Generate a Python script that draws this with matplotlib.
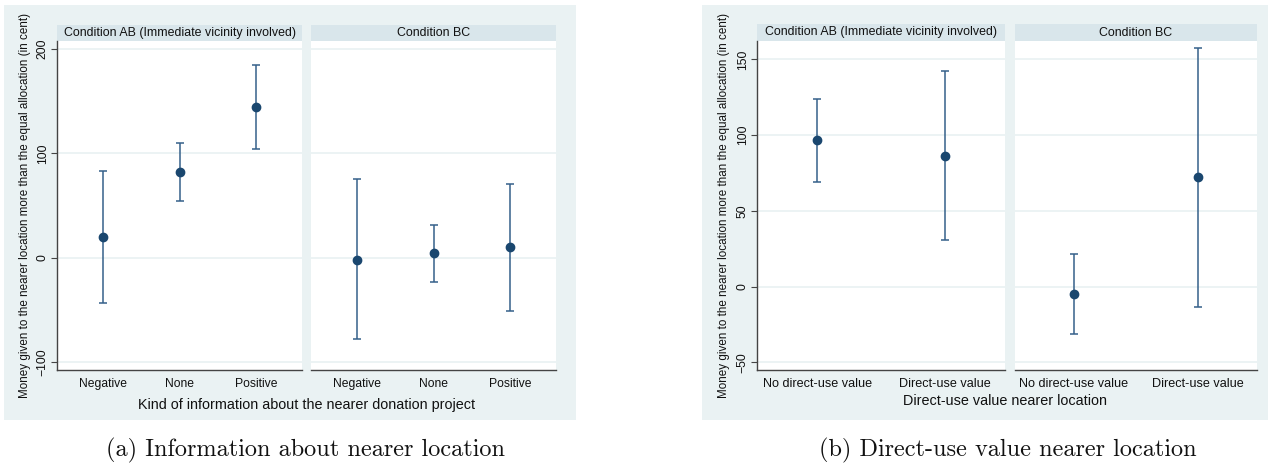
import matplotlib
matplotlib.use("Agg")
import matplotlib.pyplot as plt
from matplotlib.patches import Rectangle

# ---------------- data ----------------
info_categories = ["Negative", "None", "Positive"]
ab_info_mean = [20, 82, 144]
ab_info_lo = [-43, 54, 104]
ab_info_hi = [83, 110, 185]
bc_info_mean = [-2, 4, 10]
bc_info_lo = [-78, -23, -51]
bc_info_hi = [75, 31, 71]

use_categories = ["No direct-use value", "Direct-use value"]
ab_use_mean = [96.5, 86.5]
ab_use_lo = [69, 31]
ab_use_hi = [124, 142]
bc_use_mean = [-5, 72]
bc_use_lo = [-31.5, -13.5]
bc_use_hi = [21.5, 157.5]

panel_titles = ["Condition AB (Immediate vicinity involved)", "Condition BC"]
info_yticks = [-100, 0, 100, 200]
use_yticks = [-50, 0, 50, 100, 150]
ylabel = "Money given to the nearer location more than the equal allocation (in cent)"
xlabel_a = "Kind of information about the nearer donation project"
xlabel_b = "Direct-use value nearer location"
caption_a = "(a) Information about nearer location"
caption_b = "(b) Direct-use value nearer location"

# ---------------- style ----------------
W, H = 1271, 468
BG = "#EAF2F3"
STRIP = "#D9E6EB"
MARK = "#1A476F"
BAR = "#35608A"
SANS = ["Liberation Sans", "DejaVu Sans"]
plt.rcParams["font.family"] = SANS

fig = plt.figure(figsize=(W / 100, H / 100), dpi=100)
fig.patch.set_facecolor("white")


def rect(x0, y0, x1, y1, color):
    fig.add_artist(Rectangle((x0 / W, 1 - y1 / H), (x1 - x0) / W, (y1 - y0) / H,
                             transform=fig.transFigure, facecolor=color,
                             edgecolor="none", zorder=0))


def add_sub(x0, x1, y_top, y_bot, strip_top, title, cats, mean, lo, hi,
            xlim, ylim, yticks, show_y, tick_fs):
    # header strip
    rect(x0, strip_top, x1, y_top, STRIP)
    fig.text((x0 + x1) / 2 / W, 1 - (strip_top + y_top) / 2 / H, title,
             ha="center", va="center", fontsize=8.9, color="#111111")
    ax = fig.add_axes([x0 / W, 1 - y_bot / H, (x1 - x0) / W, (y_bot - y_top) / H])
    ax.set_facecolor("white")
    xs = list(range(1, len(cats) + 1))
    yerr = [[m - l for m, l in zip(mean, lo)], [h - m for m, h in zip(mean, hi)]]
    ax.errorbar(xs, mean, yerr=yerr, fmt="none", ecolor=BAR, elinewidth=1.1,
                capsize=3, capthick=1.1, zorder=3)
    ax.plot(xs, mean, "o", color=MARK, markersize=6, zorder=4)
    ax.set_xlim(*xlim)
    ax.set_ylim(*ylim)
    ax.set_yticks(yticks)
    for t in yticks:
        ax.axhline(t, color=BG, lw=1.3, zorder=1)
    ax.set_xticks(xs)
    ax.set_xticklabels(cats, fontsize=tick_fs, color="#111111")
    ax.tick_params(axis="x", length=0, pad=6)
    for s in ["top", "right"]:
        ax.spines[s].set_visible(False)
    ax.spines["bottom"].set_color("#444444")
    ax.spines["bottom"].set_linewidth(1.0)
    if show_y:
        ax.spines["left"].set_color("#444444")
        ax.spines["left"].set_linewidth(1.0)
        ax.tick_params(axis="y", length=4, width=0.8, color="#444444",
                       labelsize=8.8, labelcolor="#111111", pad=2)
        for lab in ax.get_yticklabels():
            lab.set_rotation(90)
            lab.set_va("center")
    else:
        ax.spines["left"].set_visible(False)
        ax.tick_params(axis="y", length=0, labelleft=False)
    return ax


# ---------------- panel (a) ----------------
rect(4, 5, 576, 420, BG)
add_sub(57, 302, 41, 370, 25, panel_titles[0], info_categories,
        ab_info_mean, ab_info_lo, ab_info_hi, (0.4, 3.6), (-107.7, 207.7),
        info_yticks, True, 8.7)
add_sub(311, 556, 41, 370, 25, panel_titles[1], info_categories,
        bc_info_mean, bc_info_lo, bc_info_hi, (0.4, 3.6), (-107.7, 207.7),
        info_yticks, False, 8.7)
fig.text(25 / W, 1 - 205 / H, ylabel, rotation=90, ha="center", va="center",
         fontsize=8.4, color="#111111")
fig.text(307 / W, 1 - 405 / H, xlabel_a, ha="center", va="center",
         fontsize=10.4, color="#111111")

# ---------------- panel (b) ----------------
rect(702, 5, 1268, 420, BG)
add_sub(757, 1005, 41, 370, 24, panel_titles[0], use_categories,
        ab_use_mean, ab_use_lo, ab_use_hi, (0.53, 2.47), (-55.1, 162.1),
        use_yticks, True, 9.1)
add_sub(1015, 1257, 41, 370, 24, panel_titles[1], use_categories,
        bc_use_mean, bc_use_lo, bc_use_hi, (0.53, 2.47), (-55.1, 162.1),
        use_yticks, False, 9.1)
fig.text(724 / W, 1 - 205 / H, ylabel, rotation=90, ha="center", va="center",
         fontsize=8.4, color="#111111")
fig.text(1005 / W, 1 - 401 / H, xlabel_b, ha="center", va="center",
         fontsize=10.4, color="#111111")

# ---------------- captions ----------------
fig.text(306 / W, 1 - 450 / H, caption_a, ha="center", va="center",
         fontsize=17.5, family=["cmr10", "DejaVu Serif"], color="#111111")
fig.text(1008 / W, 1 - 450 / H, caption_b, ha="center", va="center",
         fontsize=17.5, family=["cmr10", "DejaVu Serif"], color="#111111")

fig.savefig("out.png", dpi=100, facecolor="white")
